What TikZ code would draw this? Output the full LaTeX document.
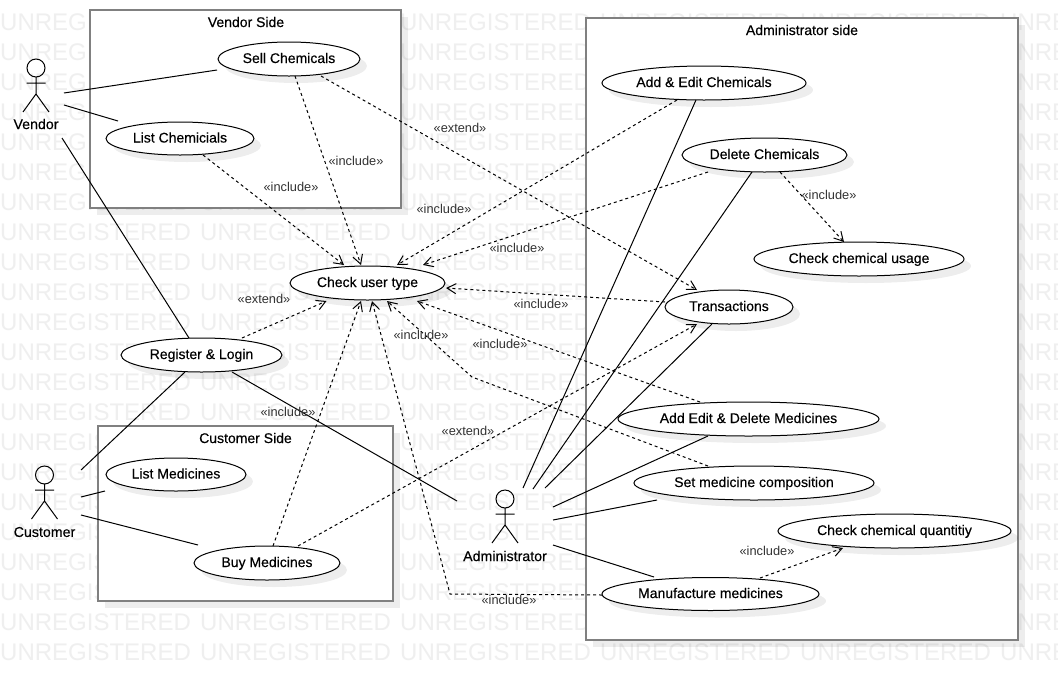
\documentclass[tikz,border=0pt]{standalone}
\usepackage{fontspec}
\setmainfont{Liberation Sans}
\newfontfamily\namefont[FakeBold=0.3]{Liberation Sans}
\usetikzlibrary{arrows.meta,shapes.geometric,shadows}
\definecolor{wmark}{HTML}{EFEFEF}
\definecolor{boxline}{HTML}{808080}
\definecolor{tagtext}{HTML}{333333}
\tikzset{
  softshadow/.style={general shadow={fill=black,opacity=.07,shadow xshift=7pt,shadow yshift=-7pt}},
  usecase/.style={ellipse,draw=black,line width=1pt,fill=white,inner sep=0pt,softshadow,
    text height=11pt,text depth=3pt,font=\namefont\fontsize{14}{15}\selectfont},
  sidebox/.style={rectangle,draw=boxline,line width=2pt,fill=white,inner sep=0pt,softshadow},
  boxtitle/.style={inner sep=0pt,font=\namefont\fontsize{14}{15}\selectfont},
  actorname/.style={inner sep=0pt,font=\namefont\fontsize{14.2}{15}\selectfont},
  assoc/.style={draw=black,line width=1pt},
  dep/.style={draw=black,line width=1pt,dash pattern=on 3pt off 3pt,-{Straight Barb[length=9pt,width=10pt]}},
  tag/.style={inner sep=0pt,yshift=-0.5pt,text=tagtext,font=\fontsize{12.8}{15}\selectfont},
  actor/.pic={
    \draw[line width=1pt] (0,0) circle[radius=9];
    \draw[line width=1pt] (0,9) -- (0,26) (-9.5,15) -- (9.5,15) (-13,44) -- (0,26) -- (13,44);
  }
}
\begin{document}
\begin{tikzpicture}[x=1pt,y=-1pt]
\useasboundingbox (0,0) rectangle (1058,681);
\fill[white] (0,0) rectangle (1058,681);
% watermark
\begin{scope}
\clip (0,0) rectangle (1058,681);
\foreach \r in {0,...,21}{
  \foreach \c in {0,...,5}{
    \node[anchor=west,inner sep=0pt,text=wmark,font=\fontsize{24}{26}\selectfont] (wm\r-\c) at (\c*200,22+\r*30) {UNREGISTERED};
  }
}
\end{scope}
% side boxes
\node[sidebox,minimum width=311pt,minimum height=198pt] (vendorbox) at (245.5,109) {};
\node[sidebox,minimum width=295pt,minimum height=175pt] (customerbox) at (245.5,513.5) {};
\node[sidebox,minimum width=432pt,minimum height=622pt] (adminbox) at (802,329) {};
\node[boxtitle] (vendortitle) at (246,22) {Vendor Side};
\node[boxtitle] (customertitle) at (245.5,438) {Customer Side};
\node[boxtitle] (admintitle) at (802,30) {Administrator side};
% use cases
\node[usecase,minimum width=142pt,minimum height=34pt] (sell) at (289,59) {Sell Chemicals};
\node[usecase,minimum width=148pt,minimum height=33pt] (lchem) at (180,138.5) {List Chemicials};
\node[usecase,minimum width=140pt,minimum height=33pt] (lmed) at (176,474.5) {List Medicines};
\node[usecase,minimum width=146pt,minimum height=34pt] (buy) at (267,563) {Buy Medicines};
\node[usecase,minimum width=161pt,minimum height=34pt] (reg) at (201.5,355) {Register \& Login};
\node[usecase,minimum width=155pt,minimum height=34pt] (check) at (367.5,283) {Check user type};
\node[usecase,minimum width=204pt,minimum height=34pt] (addchem) at (704,83) {Add \& Edit Chemicals};
\node[usecase,minimum width=165pt,minimum height=34pt] (delchem) at (764.5,155) {Delete Chemicals};
\node[usecase,minimum width=210pt,minimum height=34pt] (usage) at (859,259) {Check chemical usage};
\node[usecase,minimum width=128pt,minimum height=34pt] (trans) at (729,307) {Transactions};
\node[usecase,minimum width=261pt,minimum height=34pt] (addmed) at (748.5,419) {Add Edit \& Delete Medicines};
\node[usecase,minimum width=240pt,minimum height=34pt] (setmed) at (754,483) {Set medicine composition};
\node[usecase,minimum width=233pt,minimum height=34pt] (qty) at (894.5,531) {Check chemical quantitiy};
\node[usecase,minimum width=217pt,minimum height=33pt] (manu) at (710.5,594) {Manufacture medicines};
% actors
\pic at (36,68) {actor};
\pic at (44.5,475) {actor};
\pic at (505,499) {actor};
\node[actorname] (vendor) at (36,124) {Vendor};
\node[actorname] (customer) at (44.5,532) {Customer};
\node[actorname] (admin) at (505,556) {Administrator};
% bend points
\coordinate (setbend) at (472,377);
\coordinate (manubend) at (450,594);
% associations
\draw[assoc] ([shift={(28,-31)}]vendor.center) -- ([shift={(-72,11)}]sell.center);
\draw[assoc] ([shift={(28,-19)}]vendor.center) -- ([shift={(-62,-17.5)}]lchem.center);
\draw[assoc] ([shift={(26,14)}]vendor.center) -- ([shift={(-12.5,-17)}]reg.center);
\draw[assoc] ([shift={(36.5,-62)}]customer.center) -- ([shift={(-16.5,17)}]reg.center);
\draw[assoc] ([shift={(36.5,-35)}]customer.center) -- ([shift={(-71,16.5)}]lmed.center);
\draw[assoc] ([shift={(36.5,-17)}]customer.center) -- ([shift={(-69,-18)}]buy.center);
\draw[assoc] ([shift={(30.5,17)}]reg.center) -- ([shift={(-48,-55)}]admin.center);
\draw[assoc] ([shift={(18,-68)}]admin.center) -- ([shift={(-8,17)}]addchem.center);
\draw[assoc] ([shift={(28,-67)}]admin.center) -- ([shift={(-12.5,17)}]delchem.center);
\draw[assoc] ([shift={(40,-68)}]admin.center) -- ([shift={(-17,17)}]trans.center);
\draw[assoc] ([shift={(48,-49)}]admin.center) -- ([shift={(-40.5,17)}]addmed.center);
\draw[assoc] ([shift={(48,-36)}]admin.center) -- ([shift={(-97,17)}]setmed.center);
\draw[assoc] ([shift={(48,-11)}]admin.center) -- ([shift={(-56.5,-17)}]manu.center);
% dependencies
\draw[dep] ([shift={(6,17)}]sell.center) -- ([shift={(-6.5,-18)}]check.center);
\draw[dep] ([shift={(32,17)}]sell.center) -- ([shift={(-32,-17)}]trans.center);
\draw[dep] ([shift={(23,16.5)}]lchem.center) -- ([shift={(-23.5,-18)}]check.center);
\draw[dep] ([shift={(-27,17)}]addchem.center) -- ([shift={(29.5,-18)}]check.center);
\draw[dep] ([shift={(-56.5,17)}]delchem.center) -- ([shift={(55.5,-18)}]check.center);
\draw[dep] ([shift={(15.5,17)}]delchem.center) -- ([shift={(-15,-17)}]usage.center);
\draw[dep] ([shift={(-64,-5)}]trans.center) -- ([shift={(78.5,5)}]check.center);
\draw[dep] ([shift={(-48.5,-17)}]addmed.center) -- ([shift={(49.5,18)}]check.center);
\draw[dep] ([shift={(-46,-17)}]setmed.center) -- (setbend) -- ([shift={(19.5,18)}]check.center);
\draw[dep] ([shift={(-108.5,1)}]manu.center) -- (manubend) -- ([shift={(4.5,18)}]check.center);
\draw[dep] ([shift={(49.5,-16)}]manu.center) -- ([shift={(-51.5,17)}]qty.center);
\draw[dep] ([shift={(40.5,-17)}]reg.center) -- ([shift={(-41,18)}]check.center);
\draw[dep] ([shift={(6,-17)}]buy.center) -- ([shift={(-6.5,18)}]check.center);
\draw[dep] ([shift={(31,-17)}]buy.center) -- ([shift={(-32,17)}]trans.center);
% connector labels
\node[tag] (t1) at (356,160) {«include»};
\node[tag] (t2) at (460,127) {«extend»};
\node[tag] (t3) at (291,186) {«include»};
\node[tag] (t4) at (444,208) {«include»};
\node[tag] (t5) at (517,247) {«include»};
\node[tag] (t6) at (829,194) {«include»};
\node[tag] (t7) at (541,303) {«include»};
\node[tag] (t8) at (500,343) {«include»};
\node[tag] (t9) at (421,334) {«include»};
\node[tag] (t10) at (509,599) {«include»};
\node[tag] (t11) at (767,550) {«include»};
\node[tag] (t12) at (264,298) {«extend»};
\node[tag] (t13) at (288,411) {«include»};
\node[tag] (t14) at (468,430) {«extend»};
\end{tikzpicture}
\end{document}
